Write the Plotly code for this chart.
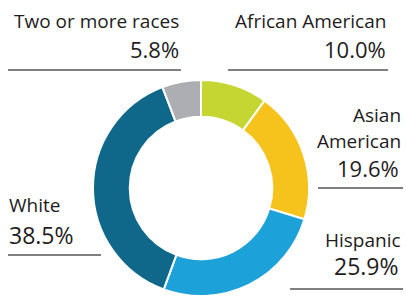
import plotly.graph_objects as go

W, H = 406, 298

categories = ["African American", "Asian American", "Hispanic", "White", "Two or more races"]
shares = [10.0, 19.6, 25.9, 38.5, 5.8]
colors = ["#c5d632", "#f6c21c", "#1ca2d8", "#0f688a", "#acaeb3"]

label_lines = [["African American"], ["Asian", "American"], ["Hispanic"], ["White"], ["Two or more races"]]
pct_labels = ["10.0%", "19.6%", "25.9%", "38.5%", "5.8%"]

def px(x):
    return x / W

def py(y):
    return 1 - y / H

cx, cy, r = 201, 188, 108

fig = go.Figure(go.Pie(
    labels=categories,
    values=shares,
    marker=dict(colors=colors, line=dict(color="white", width=2)),
    hole=0.66,
    sort=False,
    direction="clockwise",
    rotation=0,
    textinfo="none",
    hoverinfo="label+percent",
    domain=dict(x=[px(cx - r), px(cx + r)], y=[py(cy + r), py(cy - r)]),
    showlegend=False,
))

TXT = "#1e1c1d"
FONT = "Open Sans"
LBL = 19
NUM = 22

# (text, x, y_center, anchor, size)
ann = [
    (label_lines[4][0], 181, 20.5, "right", LBL),
    (pct_labels[4], 181, 48.5, "right", NUM),
    (label_lines[0][0], 388, 20.5, "right", LBL),
    (pct_labels[0], 388, 48.5, "right", NUM),
    (label_lines[1][0], 403, 115, "right", LBL),
    (label_lines[1][1], 403, 141, "right", LBL),
    (pct_labels[1], 401, 168, "right", NUM),
    (label_lines[2][0], 403, 239.5, "right", LBL),
    (pct_labels[2], 401, 266, "right", 23),
    (label_lines[3][0], 7, 204.5, "left", LBL),
    (pct_labels[3], 7, 234.5, "left", 23),
]
annotations = []
for t, x, y, anc, s in ann:
    annotations.append(dict(
        text=t, x=px(x), y=py(y), xref="paper", yref="paper",
        xanchor=anc, yanchor="middle", showarrow=False,
        font=dict(family=FONT, size=s, color=TXT),
    ))

lines = [(8, 181, 70), (228, 388, 70), (318, 403, 188), (290, 403, 289), (8, 101, 255)]
shapes = [dict(type="line", xref="paper", yref="paper",
               x0=px(a), x1=px(b), y0=py(y), y1=py(y),
               line=dict(color="#555555", width=1.5)) for a, b, y in lines]

fig.update_layout(
    width=W, height=H,
    margin=dict(l=0, r=0, t=0, b=0),
    paper_bgcolor="white", plot_bgcolor="white",
    annotations=annotations, shapes=shapes,
)

fig.write_html(
    "out.html",
    config={"displayModeBar": False},
    post_script="document.body.style.margin='0';document.body.style.overflow='hidden';",
)
